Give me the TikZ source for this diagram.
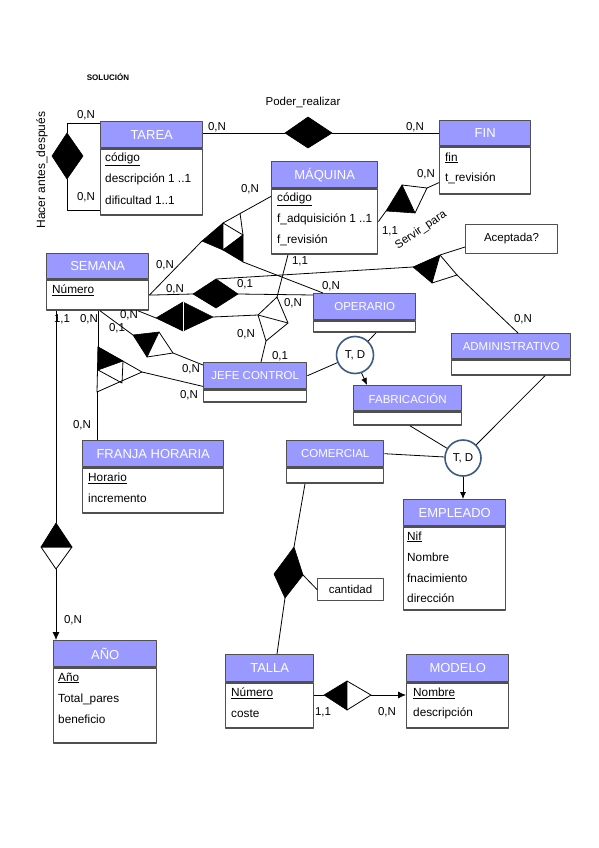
\documentclass[tikz,border=0pt]{standalone}
\usepackage{fontspec}
\setmainfont{Liberation Sans}
\usepackage{xcolor}
\usepackage{tikz}
\usetikzlibrary{arrows.meta}
\definecolor{cabecera}{RGB}{153,153,255}
\definecolor{borde}{RGB}{80,80,80}
\definecolor{circulo}{RGB}{60,90,130}
\tikzset{
  cab/.style={draw=borde, line width=1.4pt, fill=cabecera, text=white, anchor=north west, inner sep=0pt, font=\fontsize{13}{15}\selectfont},
  cabp/.style={cab, font=\fontsize{11.5}{13}\selectfont},
  cuerpo/.style={draw=borde, line width=1.4pt, fill=white, anchor=north west, inner sep=0pt},
  atr/.style={anchor=west, inner sep=0pt, font=\fontsize{11.8}{13}\selectfont},
  card/.style={inner sep=0pt, font=\fontsize{11.5}{13}\selectfont},
  caja/.style={draw=borde, line width=1pt, anchor=north west, inner sep=0pt, font=\fontsize{11.5}{13}\selectfont},
  linea/.style={draw=black, line width=0.8pt},
  negro/.style={draw=black, fill=black, line width=0.6pt},
  blanco/.style={draw=black, fill=white, line width=0.8pt},
  td/.style={circle, draw=circulo, line width=1.6pt, fill=white, minimum size=37pt, inner sep=0pt, font=\fontsize{11.5}{13}\selectfont}
}
\begin{document}
\begin{tikzpicture}[x=1pt,y=-1pt,line join=round]
\useasboundingbox (0,0) rectangle (599,848);

\node[font=\bfseries\fontsize{8}{9}\selectfont] (titulo) at (108,77) {SOLUCIÓN};
\node[card] (poder) at (303,102) {Poder\_realizar};
\node[card, rotate=90, font=\fontsize{12}{13}\selectfont] (hacer) at (42,170) {Hacer antes\_después};
\node[card, rotate=34] (servir) at (421,230) {Servir\_para};

\node[cab, minimum width=102, minimum height=26] (tarea) at (100,121) {TAREA};
\node[cuerpo, minimum width=102, minimum height=66] (tareab) at (tarea.south west) {};
\node[atr] (tarea1) at (105,159) {\underline{código}};
\node[atr] (tarea2) at (105,179) {descripción 1 ..1};
\node[atr] (tarea3) at (105,200) {dificultad 1..1};

\node[cab, minimum width=91, minimum height=25] (fin) at (439,120) {FIN};
\node[cuerpo, minimum width=91, minimum height=47] (finb) at (fin.south west) {};
\node[atr] (fin1) at (445,158) {\underline{fin}};
\node[atr] (fin2) at (445,178) {t\_revisión};

\node[cab, minimum width=106, minimum height=26] (maquina) at (271,161) {MÁQUINA};
\node[cuerpo, minimum width=106, minimum height=65] (maquinab) at (maquina.south west) {};
\node[atr] (maquina1) at (277,199) {\underline{código}};
\node[atr] (maquina2) at (277,219) {f\_adquisición 1 ..1};
\node[atr] (maquina3) at (277,240) {f\_revisión};

\node[cab, minimum width=102, minimum height=25] (semana) at (46,253) {SEMANA};
\node[cuerpo, minimum width=102, minimum height=30] (semanab) at (semana.south west) {};
\node[atr] (semana1) at (52,290) {\underline{Número}};

\node[cabp, minimum width=103, minimum height=26] (jefe) at (203,362) {JEFE CONTROL};
\node[cuerpo, minimum width=103, minimum height=12] (jefeb) at (jefe.south west) {};

\node[cabp, minimum width=102, minimum height=26] (operario) at (313,293) {OPERARIO};
\node[cuerpo, minimum width=102, minimum height=11] (operariob) at (operario.south west) {};

\node[cabp, minimum width=119, minimum height=25] (administrativo) at (451,333) {ADMINISTRATIVO};
\node[cuerpo, minimum width=119, minimum height=15] (administrativob) at (administrativo.south west) {};

\node[cabp, minimum width=108, minimum height=25] (fabricacion) at (353,385) {FABRICACIÓN};
\node[cuerpo, minimum width=108, minimum height=13] (fabricacionb) at (fabricacion.south west) {};

\node[cabp, minimum width=97, minimum height=26] (comercial) at (286,440) {COMERCIAL};
\node[cuerpo, minimum width=97, minimum height=15] (comercialb) at (comercial.south west) {};

\node[cab, minimum width=102, minimum height=26] (empleado) at (403,499) {EMPLEADO};
\node[cuerpo, minimum width=102, minimum height=83] (empleadob) at (empleado.south west) {};
\node[atr] (empleado1) at (407,537) {\underline{Nif}};
\node[atr] (empleado2) at (407,557) {Nombre};
\node[atr] (empleado3) at (407,578) {fnacimiento};
\node[atr] (empleado4) at (407,598) {dirección};

\node[cab, minimum width=141, minimum height=26] (franja) at (82,440) {FRANJA HORARIA};
\node[cuerpo, minimum width=141, minimum height=45] (franjab) at (franja.south west) {};
\node[atr] (franja1) at (88,478) {\underline{Horario}};
\node[atr] (franja2) at (88,498) {incremento};

\node[cab, minimum width=103, minimum height=26] (anio) at (53,640) {AÑO};
\node[cuerpo, minimum width=103, minimum height=75] (aniob) at (anio.south west) {};
\node[atr] (anio1) at (58,678) {\underline{Año}};
\node[atr] (anio2) at (58,699) {Total\_pares};
\node[atr] (anio3) at (58,719) {beneficio};

\node[cab, minimum width=88, minimum height=27] (talla) at (225,654) {TALLA};
\node[cuerpo, minimum width=88, minimum height=45] (tallab) at (talla.south west) {};
\node[atr] (talla1) at (231,693) {\underline{Número}};
\node[atr] (talla2) at (231,714) {coste};

\node[cab, minimum width=102, minimum height=27] (modelo) at (406,654) {MODELO};
\node[cuerpo, minimum width=102, minimum height=45] (modelob) at (modelo.south west) {};
\node[atr] (modelo1) at (413,693) {\underline{Nombre}};
\node[atr] (modelo2) at (413,713) {descripción};

\node[caja, minimum width=92, minimum height=29] (acep) at (465,224) {Aceptada?};
\node[caja, minimum width=66, minimum height=22] (cant) at (317,578) {cantidad};

\node[td] (td1) at (355,355) {T, D};
\node[td, minimum size=36pt] (td2) at (463,458) {T, D};

\coordinate (pr-l) at (285,133);
\coordinate (pr-t) at (308,117);
\coordinate (pr-r) at (332,133);
\coordinate (pr-b) at (308,148);
\coordinate (ha-t) at (67,133);
\coordinate (ha-l) at (52,156);
\coordinate (ha-r) at (83,156);
\coordinate (ha-b) at (67,179);
\coordinate (sp-l) at (386,211);
\coordinate (sp-t) at (402,185);
\coordinate (sp-r) at (427,188);
\coordinate (sp-b) at (415,213);
\coordinate (mq-a) at (202,241);
\coordinate (mq-b) at (223,223);
\coordinate (mq-c) at (223,250);
\coordinate (mq-d) at (243,235);
\coordinate (mq-e) at (243,262);
\coordinate (mq-f) at (240,213);
\coordinate (so-l) at (193,294);
\coordinate (so-t) at (216,279);
\coordinate (so-r) at (238,294);
\coordinate (so-b) at (216,308);
\coordinate (ac-l) at (413,267);
\coordinate (ac-t) at (440,255);
\coordinate (ac-r) at (457,275);
\coordinate (ac-b) at (432,283);
\coordinate (sj-l) at (156,318);
\coordinate (sj-t) at (183,302);
\coordinate (sj-r) at (213,317);
\coordinate (sj-b) at (183,331);
\coordinate (jt-t) at (277,297);
\coordinate (jt-l) at (258,315);
\coordinate (jt-r) at (288,323);
\coordinate (jt-b) at (266,341);
\coordinate (sc-l) at (133,335);
\coordinate (sc-t) at (159,332);
\coordinate (sc-r) at (173,353);
\coordinate (sc-b) at (147,357);
\coordinate (fh-1) at (98,347);
\coordinate (fh-2) at (123,361);
\coordinate (fh-3) at (98,370);
\coordinate (fh-4) at (142,372);
\coordinate (fh-5) at (122,383);
\coordinate (fh-6) at (97,392);
\coordinate (an-t) at (56,523);
\coordinate (an-l) at (41,547);
\coordinate (an-r) at (72,547);
\coordinate (an-b) at (56,569);
\coordinate (ca-t) at (294,547);
\coordinate (ca-l) at (274,574);
\coordinate (ca-r) at (303,575);
\coordinate (ca-b) at (285,598);
\coordinate (tm-l) at (324,695);
\coordinate (tm-t) at (347,681);
\coordinate (tm-r) at (371,695);
\coordinate (tm-b) at (347,710);

\draw[linea] (tarea.east |- pr-l) -- (pr-l);
\draw[linea] (pr-r) -- (fin.west |- pr-r);
\draw[linea] (ha-t) |- ([yshift=-2pt]tarea.north west);
\draw[linea] (ha-b) |- ([yshift=5pt]tareab.south west);
\draw[linea] (maquinab.east) -- (sp-l);
\draw[linea] (sp-r) -- ([yshift=-12pt]finb.west);
\draw[linea] (semanab.east) -- (mq-a);
\draw[linea] (mq-b) -- ([yshift=-8pt]maquinab.north west);
\draw[linea] (mq-e) -- ([xshift=10pt]operario.north west);
\draw[linea] (mq-f) -- (mq-d);
\draw[linea] (semanab.east) -- (so-l);
\draw[linea] (so-r) -- ([yshift=-2pt]operario.north west);
\draw[linea] (so-t) -- (ac-l);
\draw[linea] (ac-t) -- ([yshift=7pt]acep.south west);
\draw[linea] (ac-r) -- ([xshift=67pt]administrativo.north west);
\draw[linea] ([xshift=92pt]semanab.south west) -- (sj-l);
\draw[linea] (sj-r) -- (jt-l);
\draw[linea] (jt-t) -- ([xshift=17pt]maquinab.south west);
\draw[linea] (jt-b) -- ([xshift=58pt]jefe.north west);
\draw[linea] ([xshift=54pt]semanab.south west) -- (sc-l);
\draw[linea] (sc-r) -- ([yshift=-3pt]jefe.north west);
\draw[linea] ([xshift=52pt]semanab.south west) -- (fh-1);
\draw[linea] (fh-6) -- ([xshift=15pt]franja.north west);
\draw[linea] (fh-4) -- ([yshift=3pt]jefe.south west);
\draw[linea] ([xshift=10pt]semanab.south west) -- (an-t);
\draw[linea,-{Latex[length=8pt,width=7pt]}] (an-b) -- ([xshift=3pt]anio.north west);
\draw[linea] ([xshift=19pt]comercialb.south west) -- (ca-t);
\draw[linea] (ca-b) -- ([xshift=52pt]talla.north west);
\draw[linea] (ca-r) -- (cant.west);
\draw[linea] (tm-l -| tallab.east) -- (tm-l);
\draw[linea,-{Latex[length=8pt,width=7pt]}] (tm-r) -- (tm-r -| modelob.west);
\draw[linea] ([xshift=63pt]operariob.south west) -- (td1);
\draw[linea] (jefe.east) -- (td1);
\draw[linea,-{Latex[length=7pt,width=6pt]}] (td1.290) -- ([xshift=14pt]fabricacion.north west);
\draw[linea] (comercial.east) -- (td2);
\draw[linea] ([xshift=57pt]fabricacionb.south west) -- (td2);
\draw[linea] ([xshift=94pt]administrativob.south west) -- (td2);
\draw[linea,-{Latex[length=7pt,width=6pt]}] (td2.south) -- (td2.south |- empleado.north);

\filldraw[negro] (pr-l) -- (pr-t) -- (pr-r) -- (pr-b) -- cycle;
\filldraw[negro] (ha-l) -- (ha-t) -- (ha-r) -- (ha-b) -- cycle;
\filldraw[negro] (sp-l) -- (sp-t) -- (sp-b) -- cycle;
\filldraw[blanco] (sp-t) -- (sp-r) -- (sp-b) -- cycle;
\filldraw[negro] (mq-a) -- (mq-b) -- (mq-c) -- cycle;
\filldraw[blanco] (mq-b) -- (mq-d) -- (mq-c) -- cycle;
\filldraw[negro] (mq-c) -- (mq-d) -- (mq-e) -- cycle;
\filldraw[negro] (so-l) -- (so-t) -- (so-r) -- (so-b) -- cycle;
\filldraw[negro] (ac-l) -- (ac-t) -- (ac-b) -- cycle;
\filldraw[blanco] (ac-t) -- (ac-r) -- (ac-b) -- cycle;
\filldraw[negro] (sj-l) -- (sj-t) -- (sj-r) -- (sj-b) -- cycle;
\draw[white, line width=0.4pt] (sj-t) -- (sj-b);
\filldraw[blanco] (jt-t) -- (jt-l) -- (jt-b) -- (jt-r) -- cycle;
\draw[linea] (jt-l) -- (jt-r);
\filldraw[negro] (sc-l) -- (sc-t) -- (sc-b) -- cycle;
\filldraw[blanco] (sc-t) -- (sc-r) -- (sc-b) -- cycle;
\filldraw[blanco] (fh-1) -- (fh-4) -- (fh-6) -- cycle;
\filldraw[negro] (fh-1) -- (fh-2) -- (fh-3) -- cycle;
\draw[linea] (fh-2) -- (fh-5) -- (fh-3);
\filldraw[blanco] (an-l) -- (an-r) -- (an-b) -- cycle;
\filldraw[negro] (an-l) -- (an-t) -- (an-r) -- cycle;
\filldraw[negro] (ca-l) -- (ca-t) -- (ca-r) -- (ca-b) -- cycle;
\filldraw[negro] (tm-l) -- (tm-t) -- (tm-b) -- cycle;
\filldraw[blanco] (tm-t) -- (tm-r) -- (tm-b) -- cycle;

\node[card] at (86,115) {0,N};
\node[card] at (86,197) {0,N};
\node[card] at (217,127) {0,N};
\node[card] at (415,127) {0,N};
\node[card] at (250,189) {0,N};
\node[card] at (426,174) {0,N};
\node[card] at (390,231) {1,1};
\node[card] at (165,265) {0,N};
\node[card] at (175,289) {0,N};
\node[card] at (245,284) {0,1};
\node[card] at (300,261) {1,1};
\node[card] at (331,286) {0,N};
\node[card] at (293,303) {0,N};
\node[card] at (129,315) {0,N};
\node[card] at (117,328) {0,1};
\node[card] at (89,319) {0,N};
\node[card] at (62,319) {1,1};
\node[card] at (246,334) {0,N};
\node[card] at (280,356) {0,1};
\node[card] at (191,369) {0,N};
\node[card] at (189,395) {0,N};
\node[card] at (523,319) {0,N};
\node[card] at (82,425) {0,N};
\node[card] at (73,620) {0,N};
\node[card] at (323,712) {1,1};
\node[card] at (387,712) {0,N};
\end{tikzpicture}
\end{document}
